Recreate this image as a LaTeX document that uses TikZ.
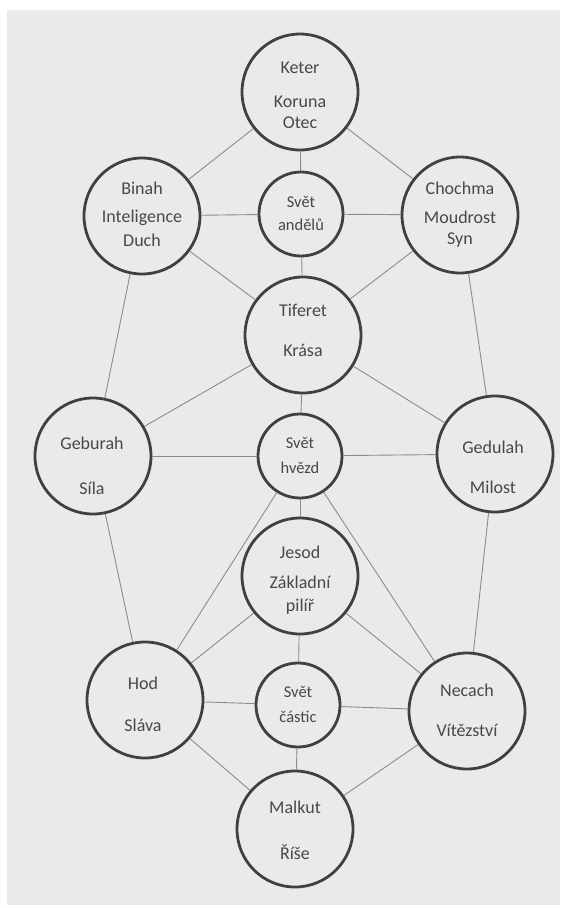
\documentclass[tikz,border=0pt]{standalone}
\usepackage{fontspec}
\setmainfont{Carlito}
\definecolor{bg}{HTML}{EAEAEA}
\definecolor{ringc}{HTML}{404040}
\definecolor{linkc}{HTML}{8C8C8C}
\definecolor{txtc}{HTML}{484848}
\begin{document}
\begin{tikzpicture}[x=1pt,y=-1pt,
  sefira/.style={circle,draw=ringc,line width=2.8pt,fill=bg,inner sep=0pt,minimum size=116pt},
  svet/.style={circle,draw=ringc,line width=2.8pt,fill=bg,inner sep=0pt,minimum size=84pt},
  link/.style={draw=linkc,line width=0.9pt},
  txt/.style={text=txtc,font=\fontsize{18}{20}\selectfont,inner sep=0pt},
  stxt/.style={text=txtc,font=\fontsize{16.5}{18}\selectfont,inner sep=0pt}]
\useasboundingbox (0,0) rectangle (560,908);
\fill[white] (0,0) rectangle (560,908);
\fill[bg] (7,10) rectangle (560,905);
% circles
\node[sefira] (keter) at (300,92) {};
\node[svet] (andel) at (301,214) {};
\node[sefira] (binah) at (142,216) {};
\node[sefira] (chochma) at (460,215) {};
\node[sefira] (tiferet) at (303,335) {};
\node[sefira] (geburah) at (93,456) {};
\node[svet] (hvezd) at (300,456) {};
\node[sefira] (gedulah) at (495,454) {};
\node[sefira] (jesod) at (300,576) {};
\node[sefira] (hod) at (145,700) {};
\node[svet] (castic) at (298,705) {};
\node[sefira] (necach) at (467,711) {};
\node[sefira] (malkut) at (295,829) {};
% connectors
\foreach \a/\b in {keter/binah,keter/chochma,keter/andel,binah/andel,andel/chochma,
  andel/tiferet,binah/tiferet,chochma/tiferet,binah/geburah,chochma/gedulah,
  tiferet/geburah,tiferet/gedulah,tiferet/hvezd,geburah/hvezd,hvezd/gedulah,
  hvezd/jesod,hvezd/hod,hvezd/necach,geburah/hod,gedulah/necach,jesod/hod,
  jesod/necach,jesod/castic,hod/castic,castic/necach,hod/malkut,necach/malkut,
  castic/malkut}
  \draw[link] (\a) -- (\b);
% texts
\node[txt] (t1) at (300,68) {Keter};
\node[txt] (t2) at (300,102) {Koruna};
\node[txt] (t3) at (300,123) {Otec};
\node[stxt] (t4) at (301,202) {Svět};
\node[stxt] (t5) at (301,225) {andělů};
\node[txt] (t6) at (142,188) {Binah};
\node[txt] (t7) at (142,218) {Inteligence};
\node[txt] (t8) at (142,240) {Duch};
\node[txt] (t9) at (460,188) {Chochma};
\node[txt] (t10) at (460,217) {Moudrost};
\node[txt] (t11) at (460,240) {Syn};
\node[txt] (t12) at (303,310) {Tiferet};
\node[txt] (t13) at (303,350) {Krása};
\node[txt] (t14) at (92,443) {Geburah};
\node[txt] (t15) at (92,488) {Síla};
\node[stxt] (t16) at (300,443) {Svět};
\node[stxt] (t17) at (300,468) {hvězd};
\node[txt] (t18) at (493,447) {Gedulah};
\node[txt] (t19) at (493,487) {Milost};
\node[txt] (t20) at (300,552) {Jesod};
\node[txt] (t21) at (300,582) {Základní};
\node[txt] (t22) at (300,607) {pilíř};
\node[txt] (t23) at (143,683) {Hod};
\node[txt] (t24) at (143,725) {Sláva};
\node[stxt] (t25) at (298,692) {Svět};
\node[stxt] (t26) at (298,717) {částic};
\node[txt] (t27) at (467,690) {Necach};
\node[txt] (t28) at (467,730) {Vítězství};
\node[txt] (t29) at (295,807) {Malkut};
\node[txt] (t30) at (295,852) {Říše};
\end{tikzpicture}
\end{document}
